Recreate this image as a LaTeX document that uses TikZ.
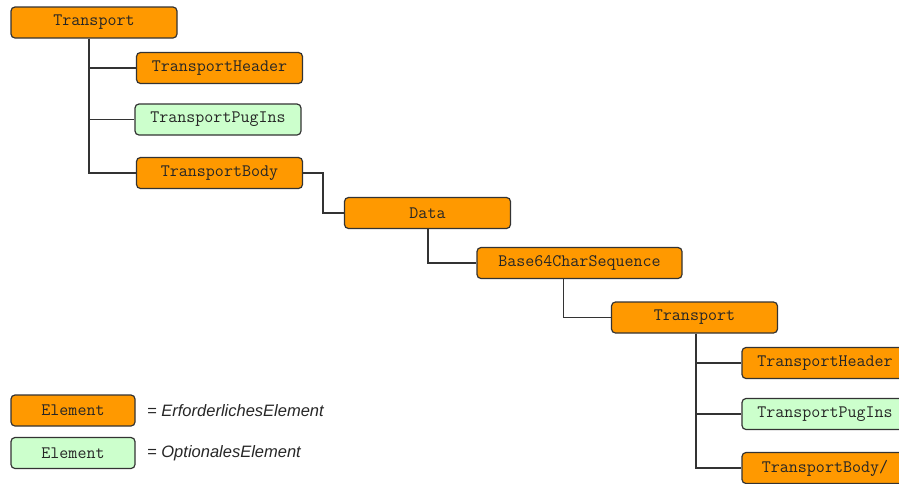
\documentclass[tikz,border=0pt]{standalone}
\usepackage{fontspec}
\setmainfont{Liberation Sans}
\definecolor{req}{HTML}{FF9900}
\definecolor{opt}{HTML}{CCFFCC}
\definecolor{edge}{HTML}{333333}
\begin{document}
\begin{tikzpicture}[x=1pt,y=-1pt,
  el/.style={draw=edge, line width=1.2pt, rounded corners=4pt, minimum width=166pt, minimum height=31pt, inner sep=0pt, font=\ttfamily\fontsize{17.5}{20}\selectfont, text=black!85},
  reqel/.style={el, fill=req},
  optel/.style={el, fill=opt},
  conn/.style={draw=edge, line width=1.3pt},
  legtext/.style={anchor=west, inner sep=0pt, font=\itshape\fontsize{16.5}{19}\selectfont, text=black!85}]
\useasboundingbox (0,0) rectangle (899,483);
\begin{scope}
\clip (0,0) rectangle (899,483);
\node[reqel] (T1) at (94,22.5) {Transport};
\node[reqel] (TH1) at (219.5,68) {TransportHeader};
\node[optel] (TP1) at (218,119.5) {TransportPugIns};
\node[reqel] (TB1) at (219.5,173) {TransportBody};
\node[reqel] (D) at (427.5,213) {Data};
\node[reqel, minimum width=205pt] (B) at (579.5,263) {Base64CharSequence};
\node[reqel] (T2) at (694.5,317.5) {Transport};
\node[reqel] (TH2) at (825,363) {TransportHeader};
\node[optel] (TP2) at (825,414) {TransportPugIns};
\node[reqel] (TB2) at (825,468) {TransportBody/};
\end{scope}
\path[conn] ([xshift=-5pt]T1.south) coordinate (t1v) |- (TH1.west);
\path[conn] (t1v) |- (TP1.west);
\path[conn] (t1v) |- (TB1.west);
\path[conn] (TB1.east) -- ++(20,0) |- (D.west);
\path[conn] ([xshift=0.5pt]D.south) |- (B.west);
\path[conn] ([xshift=-16pt]B.south) |- (T2.west);
\path[conn] ([xshift=1.5pt]T2.south) coordinate (t2v) |- (TH2.west);
\path[conn] (t2v) |- (TP2.west);
\path[conn] (t2v) |- (TB2.west);
\node[reqel, minimum width=124pt] (L1) at (73,410.5) {Element};
\node[optel, minimum width=124pt] (L2) at (73,453) {Element};
\node[legtext] (L1t) at (147,411) {= ErforderlichesElement};
\node[legtext] (L2t) at (147,453) {= OptionalesElement};
\end{tikzpicture}
\end{document}
